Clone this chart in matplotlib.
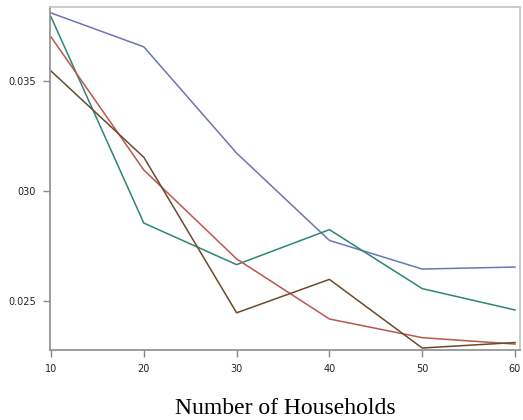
import matplotlib.pyplot as plt

households = [10, 20, 30, 40, 50, 60]

blue = [0.03808, 0.03654, 0.03171, 0.02774, 0.02644, 0.02653]
teal = [0.03790, 0.02853, 0.02664, 0.02823, 0.02555, 0.02458]
red = [0.03699, 0.03094, 0.02690, 0.02417, 0.02332, 0.02303]
brown = [0.03544, 0.03152, 0.02445, 0.02597, 0.02285, 0.02310]

xticks = [10, 20, 30, 40, 50, 60]
yticks = [0.025, 0.030, 0.035]
ytick_labels = ["0.025", "030", "0.035"]

fig = plt.figure(figsize=(5.23, 4.20), dpi=100)
ax = fig.add_axes([50 / 523, 70 / 420, 470 / 523, 343 / 420])

ax.plot(households, blue, color="#6a76b5", lw=1.1)
ax.plot(households, teal, color="#2d8577", lw=1.1)
ax.plot(households, red, color="#bb574e", lw=1.1)
ax.plot(households, brown, color="#6b4a2c", lw=1.1)

ax.set_xlim(9.89, 60.54)
ax.set_ylim(0.02276, 0.03835)

ax.set_xticks(xticks)
ax.set_xticklabels([str(t) for t in xticks])
ax.set_yticks(yticks)
ax.set_yticklabels(ytick_labels)
ax.tick_params(direction="out", length=5, width=1, color="#888888",
               labelsize=7, labelcolor="#222222", pad=5)

for side in ["left", "bottom"]:
    ax.spines[side].set_color("#8c8c8c")
    ax.spines[side].set_linewidth(1.2)
for side in ["top", "right"]:
    ax.spines[side].set_color("#c4c4c4")
    ax.spines[side].set_linewidth(1.2)

ax.set_xlabel("Number of Households", family="Liberation Serif",
              fontsize=17, labelpad=17)

fig.savefig("out.png", dpi=100)
